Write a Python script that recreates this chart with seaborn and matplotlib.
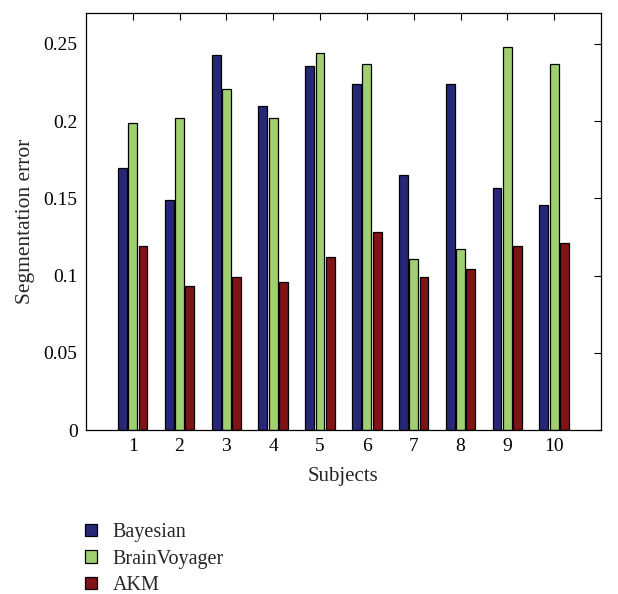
import matplotlib
matplotlib.use("Agg")
import matplotlib.pyplot as plt
import seaborn as sns
import pandas as pd
from matplotlib.patches import Patch

subjects = ["1", "2", "3", "4", "5", "6", "7", "8", "9", "10"]
methods = ["Bayesian", "BrainVoyager", "AKM"]
bayesian = [0.170, 0.149, 0.243, 0.210, 0.236, 0.224, 0.165, 0.224, 0.157, 0.146]
brainvoyager = [0.199, 0.202, 0.221, 0.202, 0.244, 0.237, 0.111, 0.117, 0.248, 0.237]
akm = [0.119, 0.093, 0.099, 0.096, 0.112, 0.128, 0.099, 0.104, 0.119, 0.121]
colors = ["#262877", "#9fcf6e", "#7f1315"]

rows = []
for name, vals in zip(methods, [bayesian, brainvoyager, akm]):
    for s, v in zip(subjects, vals):
        rows.append({"Subject": s, "Method": name, "Error": v})
df = pd.DataFrame(rows)

sns.set_style("white")
plt.rcParams["font.family"] = ["Liberation Serif", "DejaVu Serif"]

fig = plt.figure(figsize=(6.18, 5.94), dpi=100)
ax = fig.add_axes([0.139, 0.276, 0.8335, 0.702])

sns.barplot(data=df, x="Subject", y="Error", hue="Method", order=subjects,
            hue_order=methods, palette=colors, width=0.66, gap=0.14,
            edgecolor="black", linewidth=0.9, saturation=1, ax=ax, legend=False)

ax.set_xlim(-1, 10)
ax.set_ylim(0, 0.27)
ax.set_yticks([0, 0.05, 0.1, 0.15, 0.2, 0.25])
ax.set_yticklabels(["0", "0.05", "0.1", "0.15", "0.2", "0.25"])
ax.tick_params(direction="in", top=True, right=True, length=5, width=0.8,
               labelsize=14, colors="black", pad=6)
for sp in ax.spines.values():
    sp.set_visible(True)
    sp.set_color("black")
    sp.set_linewidth(0.9)

ax.set_xlabel("Subjects", fontsize=15, labelpad=8)
ax.set_ylabel("Segmentation error", fontsize=15.5, labelpad=6)

handles = [Patch(facecolor=c, edgecolor="black", linewidth=0.9) for c in colors]
fig.legend(handles, methods, loc="upper left", bbox_to_anchor=(0.125, 0.133),
           frameon=False, fontsize=14.5, handlelength=0.57, handleheight=0.57,
           handletextpad=0.78, labelspacing=0.38, borderaxespad=0)

fig.savefig("out.png", dpi=100, facecolor="white")
